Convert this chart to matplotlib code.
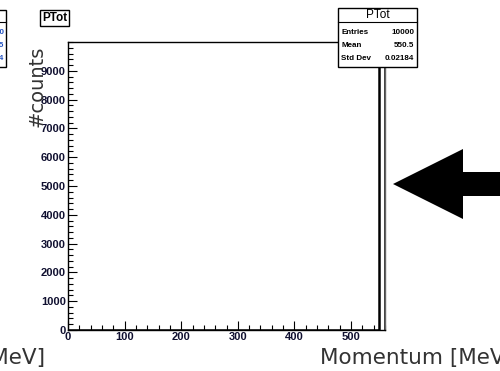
import numpy as np
import matplotlib
matplotlib.use("Agg")
import matplotlib.pyplot as plt
from matplotlib.patches import Rectangle, Polygon
from matplotlib.lines import Line2D

# histogram: 50 bins over 0..560 MeV, all entries land in the last bin
bin_edges = np.linspace(0, 560, 51)
counts = [0] * 49 + [10000]

hist_name = "PTot"
stat_names = ["Entries", "Mean", "Std Dev"]
stat_values = ["10000", "550.5", "0.02184"]
other_values = ["10000", "550.5", "0.02184"]

W, H = 500, 371
fig = plt.figure(figsize=(W / 100, H / 100), dpi=100)


def fx(px):
    return px / W


def fy(py):
    return 1 - py / H


ax = fig.add_axes([fx(68), fy(330), fx(385) - fx(68), fy(42) - fy(330)])
ax.stairs(counts, bin_edges, color="black", linewidth=1.8)
ax.set_xlim(0, 560)
ax.set_ylim(0, 10000)

ax.set_xticks(np.arange(0, 501, 100))
ax.set_xticks(np.arange(0, 561, 20), minor=True)
ax.set_yticks(np.arange(0, 9001, 1000))
ax.set_yticks(np.arange(0, 10001, 200), minor=True)
ax.tick_params(which="both", direction="in", top=False, right=False,
               colors="black", labelcolor="#101030")
ax.tick_params(which="major", length=6.5, width=0.8)
ax.tick_params(which="minor", length=3.6, width=0.8)
ax.tick_params(axis="x", pad=1.5)
ax.tick_params(axis="y", pad=1.5)
for lab in ax.get_xticklabels() + ax.get_yticklabels():
    lab.set_fontfamily("Liberation Sans")
    lab.set_fontweight("bold")
    lab.set_fontsize(8)
for side in ["left", "bottom", "top"]:
    ax.spines[side].set_color("black")
    ax.spines[side].set_linewidth(1.0)
ax.spines["right"].set_color("#666666")
ax.spines["right"].set_linewidth(1.0)

# axis titles (slide font)
fig.text(fx(37), fy(86), "#counts", rotation=90, ha="center", va="center",
         fontsize=14, color="#333333", family="DejaVu Sans")
fig.text(fx(320), fy(358), "Momentum [MeV]", ha="left", va="center",
         fontsize=15.5, color="#333333", family="DejaVu Sans")
fig.text(fx(45), fy(358), "Momentum [MeV]", ha="right", va="center",
         fontsize=15.5, color="#333333", family="DejaVu Sans")

# title box
fig.text(fx(54.5), fy(18), hist_name, ha="center", va="center",
         fontsize=8.5, fontweight="bold", family="Liberation Sans",
         bbox=dict(boxstyle="square,pad=0.2", fc="white", ec="black", lw=1))

# stats box
fig.add_artist(Rectangle((fx(338), fy(67)), fx(417) - fx(338), fy(8) - fy(67),
                         transform=fig.transFigure, fc="white", ec="black",
                         lw=1, zorder=5))
fig.add_artist(Line2D([fx(338), fx(417)], [fy(22), fy(22)],
                      transform=fig.transFigure, color="black", lw=0.8, zorder=6))
fig.text(fx(377.5), fy(15), hist_name, ha="center", va="center", fontsize=8.5,
         family="Liberation Sans", zorder=7)
for i, (n, v) in enumerate(zip(stat_names, stat_values)):
    y = fy(32 + 13.5 * i)
    fig.text(fx(341), y, n, ha="left", va="center", fontsize=5.8,
             fontweight="bold", family="Liberation Sans", zorder=7)
    fig.text(fx(414), y, v, ha="right", va="center", fontsize=5.8,
             fontweight="bold", family="Liberation Sans", zorder=7)

# neighbouring stats box, mostly off the left edge
fig.add_artist(Rectangle((fx(-60), fy(67)), fx(65.5), fy(10) - fy(67),
                         transform=fig.transFigure, fc="white", ec="black", lw=1))
fig.add_artist(Line2D([fx(-60), fx(5.5)], [fy(22), fy(22)],
                      transform=fig.transFigure, color="black", lw=0.8))
for i, v in enumerate(other_values):
    fig.text(fx(4), fy(32 + 13.5 * i), v, ha="right", va="center", fontsize=5.8,
             fontweight="bold", color="#2050c0", family="Liberation Sans")

# big arrow pointing at the filled bin
arrow_px = [(393, 184), (463, 149), (463, 172), (505, 172),
            (505, 196), (463, 196), (463, 219)]
fig.add_artist(Polygon([(fx(x), fy(y)) for x, y in arrow_px], closed=True,
                       transform=fig.transFigure, fc="black", ec="black", lw=0))

fig.savefig("out.png", dpi=100)
